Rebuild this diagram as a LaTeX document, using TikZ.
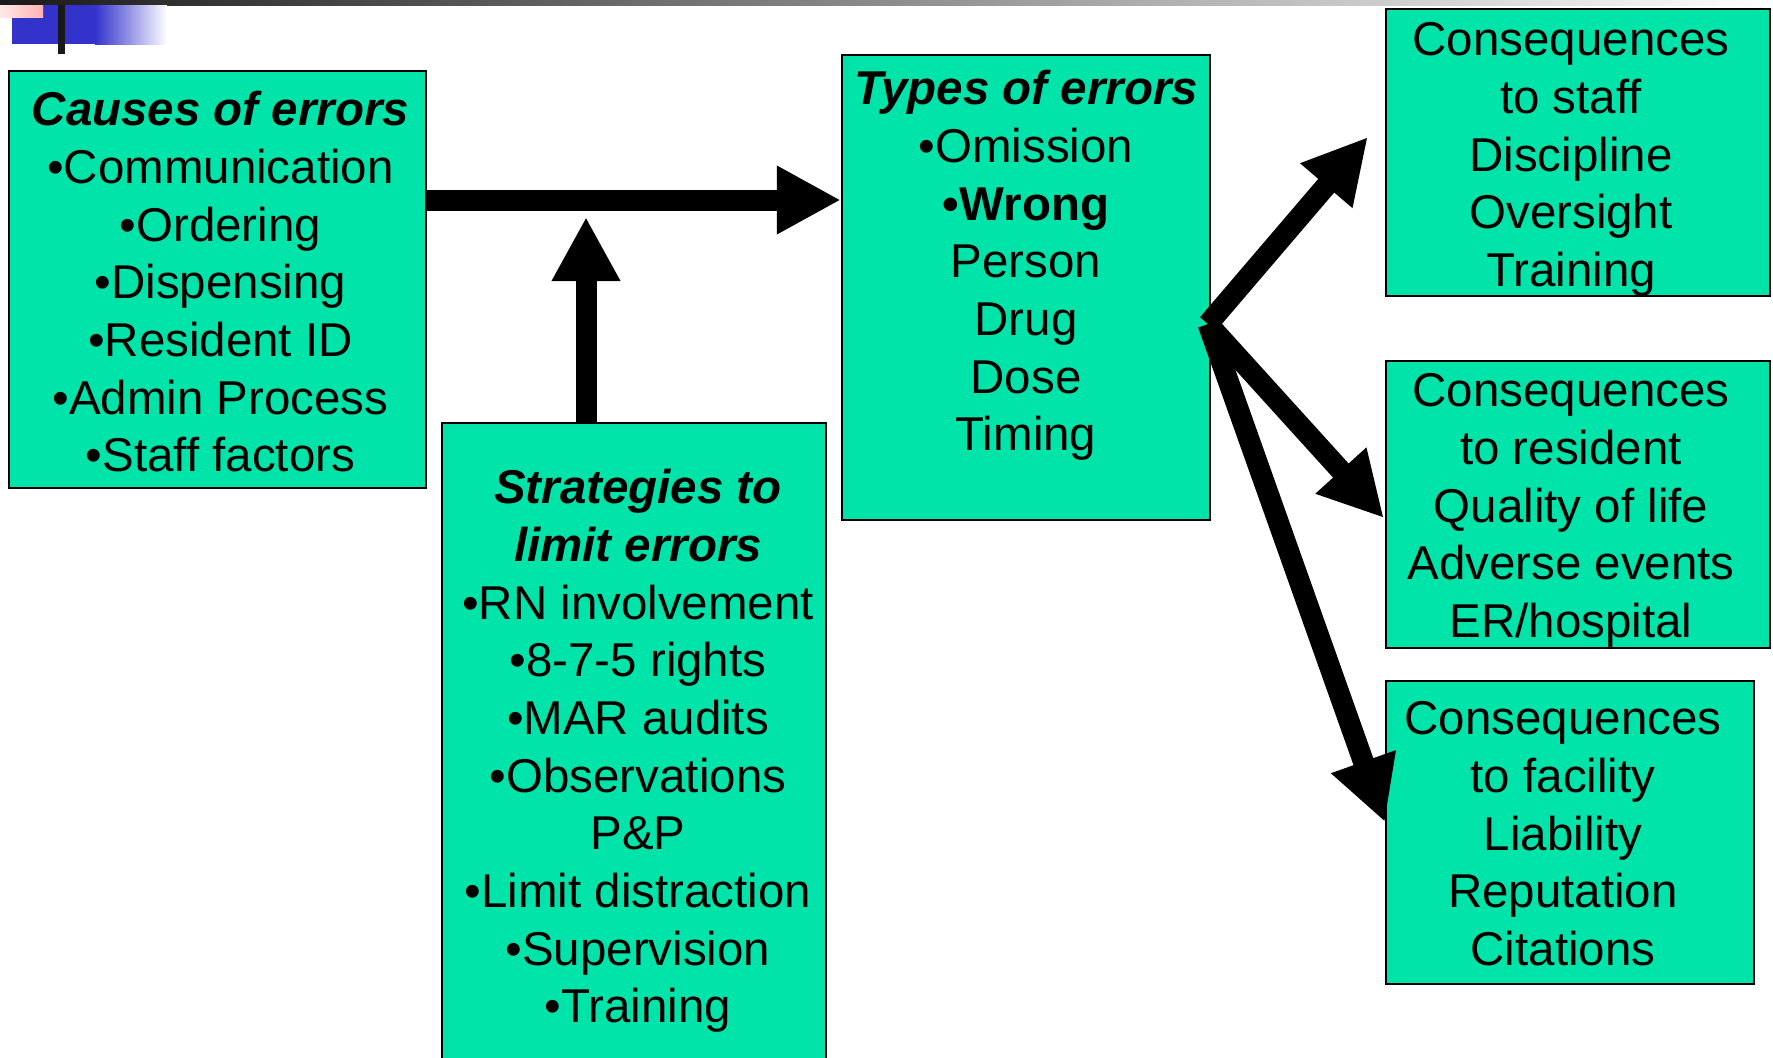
\documentclass[tikz,border=0pt]{standalone}
\usepackage{fontspec}
\setmainfont{Liberation Sans}
\usetikzlibrary{positioning}
\usetikzlibrary{arrows.meta}
\definecolor{boxgreen}{HTML}{00E4AA}
\definecolor{slideblue}{HTML}{3333CC}
\definecolor{slidepink}{HTML}{FFB3B3}
\tikzset{box/.style={draw=black, line width=0.6pt, fill=boxgreen, inner sep=0pt}}
\tikzset{txt/.style={align=center, inner sep=0pt, font=\fontsize{13.5}{16.4}\selectfont}}
\tikzset{bigarrow/.style={line width=5.97pt, -{Triangle[length=6.4mm, width=6.4mm]}}}
\newcommand{\hd}[1]{\textbf{\textit{#1}}}

\begin{document}
\begin{tikzpicture}[x=0.01cm, y=0.01cm]
\useasboundingbox (0,0) rectangle (1773,-1057);

% slide corner
\shade[left color=black!90, right color=white] (0,0) rectangle (1773,-5);
\fill[slideblue] (12,-5) rectangle (95,-44);
\shade[left color=slideblue, right color=white] (95,-5) rectangle (167,-44);
\shade[left color=slidepink!30, right color=slidepink] (0,-5) rectangle (43,-17);
\fill[black!90] (58,-5) rectangle (65,-54);

% boxes
\node[box, minimum width=4.17cm, minimum height=4.17cm] (causes) at (217.5,-279.5) {};
\node[box, minimum width=3.84cm, minimum height=6.46cm] (strategies) at (634,-746) {};
\node[box, minimum width=3.68cm, minimum height=4.65cm] (types) at (1026,-287.5) {};
\node[box, minimum width=3.84cm, minimum height=2.87cm] (staff) at (1578,-152.5) {};
\node[box, minimum width=3.84cm, minimum height=2.87cm] (resident) at (1578,-504.5) {};
\node[box, minimum width=3.68cm, minimum height=3.03cm] (facility) at (1570,-832.5) {};

% texts
\node[txt, below=0.21cm of causes.north, xshift=0.03cm] (causesT)
  {\hd{Causes of errors}\\•Communication\\•Ordering\\•Dispensing\\•Resident ID\\•Admin Process\\•Staff factors};
\node[txt, below=0.47cm of strategies.north, xshift=0.04cm] (strategiesT)
  {\hd{Strategies to}\\\hd{limit errors}\\•RN involvement\\•8-7-5 rights\\•MAR audits\\•Observations\\P\&P\\•Limit distraction\\•Supervision\\•Training};
\node[txt, below=0.16cm of types.north] (typesT)
  {\hd{Types of errors}\\•Omission\\\textbf{•Wrong}\\Person\\Drug\\Dose\\Timing};
\node[txt, below=0.14cm of staff.north, xshift=-0.07cm] (staffT)
  {Consequences\\to staff\\Discipline\\Oversight\\Training};
\node[txt, below=0.13cm of resident.north, xshift=-0.07cm] (residentT)
  {Consequences\\to resident\\Quality of life\\Adverse events\\ER/hospital};
\node[txt, below=0.21cm of facility.north, xshift=-0.07cm] (facilityT)
  {Consequences\\to facility\\Liability\\Reputation\\Citations};

% arrows
\coordinate (join) at (586,-217);
\coordinate (fork) at (1208,-324);
\draw[bigarrow] (causes.east |- 0,-200) -- (types.west |- 0,-200);
\draw[bigarrow] (strategies.north -| join) -- (join);
\draw[bigarrow] (fork) -- ([shift={(-17,15.5)}]staff.west);
\draw[bigarrow] (fork) -- ([shift={(-1,-13.5)}]resident.west);
\draw[bigarrow] (fork) -- ([shift={(0,10.5)}]facility.west);
\end{tikzpicture}
\end{document}
